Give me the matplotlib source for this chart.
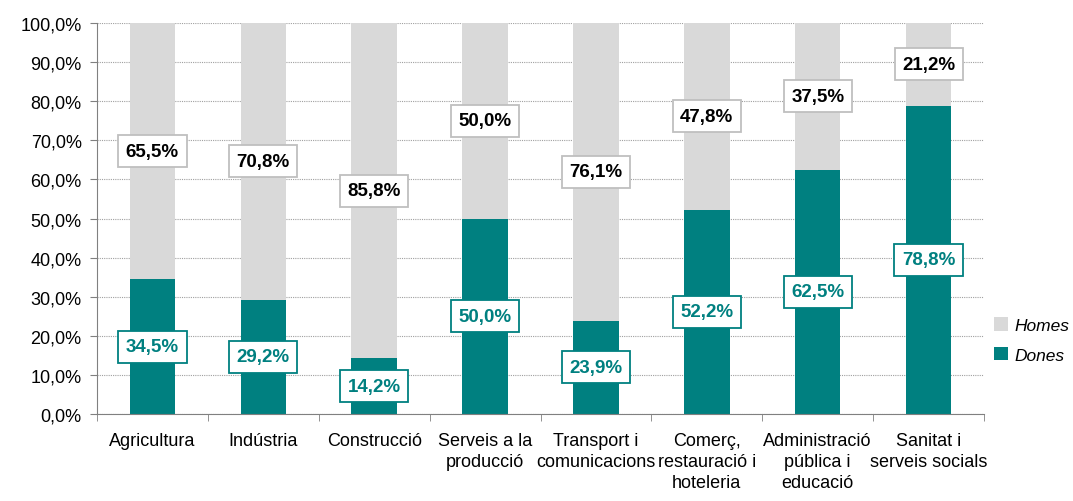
import matplotlib
matplotlib.use("Agg")
import matplotlib.pyplot as plt
import numpy as np
from matplotlib.ticker import FuncFormatter

categories = ["Agricultura", "Indústria", "Construcció", "Serveis a la\nproducció",
              "Transport i\ncomunicacions", "Comerç,\nrestauració i\nhoteleria",
              "Administració\npública i\neducació", "Sanitat i\nserveis socials"]
dones = [34.5, 29.2, 14.2, 50.0, 23.9, 52.2, 62.5, 78.8]
homes = [65.5, 70.8, 85.8, 50.0, 76.1, 47.8, 37.5, 21.2]

TEAL = "#008080"
GREY = "#D9D9D9"

plt.rcParams["font.family"] = ["Liberation Sans", "DejaVu Sans"]

fig = plt.figure(figsize=(10.73, 5.02), dpi=100)
ax = fig.add_axes([97 / 1073, 1 - 415 / 502, (984 - 97) / 1073, (415 - 24) / 502])

x = np.arange(len(categories))
w = 0.41
b1 = ax.bar(x, dones, w, color=TEAL, label="Dones", zorder=2)
b2 = ax.bar(x, homes, w, bottom=dones, color=GREY, label="Homes", zorder=2)

def fmt(v):
    return f"{v:.1f}%".replace(".", ",")

for i in range(len(categories)):
    ax.text(x[i], dones[i] / 2, fmt(dones[i]), ha="center", va="center",
            fontsize=13.5, fontweight="bold", color=TEAL, zorder=3,
            bbox=dict(boxstyle="square,pad=0.4", fc="white", ec=TEAL, lw=1.3))
    ax.text(x[i], dones[i] + homes[i] / 2, fmt(homes[i]), ha="center", va="center",
            fontsize=13.5, fontweight="bold", color="black", zorder=3,
            bbox=dict(boxstyle="square,pad=0.4", fc="white", ec="#BFBFBF", lw=1.3))

ax.set_xlim(-0.5, len(categories) - 0.5)
ax.set_ylim(0, 100)
ax.set_yticks(np.arange(0, 101, 10))
ax.yaxis.set_major_formatter(FuncFormatter(lambda v, p: f"{v:.1f}%".replace(".", ",")))
ax.set_xticks(x)
ax.set_xticklabels(categories, fontsize=13, linespacing=1.3)
ax.set_xticks(np.arange(-0.5, len(categories), 1), minor=True)
ax.tick_params(axis="x", which="major", length=0, pad=13)
ax.tick_params(axis="x", which="minor", length=5, color="#808080")
ax.tick_params(axis="y", labelsize=13, length=5, color="#808080", pad=6)
ax.yaxis.grid(True, color="#A0A0A0", linestyle=(0, (1, 1)), lw=0.8, zorder=0)
for s in ["top", "right"]:
    ax.spines[s].set_visible(False)
for s in ["left", "bottom"]:
    ax.spines[s].set_color("#808080")

leg = fig.legend(handles=[b2, b1], labels=["Homes", "Dones"], loc="center left",
                 bbox_to_anchor=(978 / 1073, 1 - 341 / 502), frameon=False,
                 prop={"style": "italic", "size": 12.5}, handlelength=0.8, handleheight=0.8,
                 handletextpad=0.4, labelspacing=0.8)

fig.savefig("out.png", dpi=100)
